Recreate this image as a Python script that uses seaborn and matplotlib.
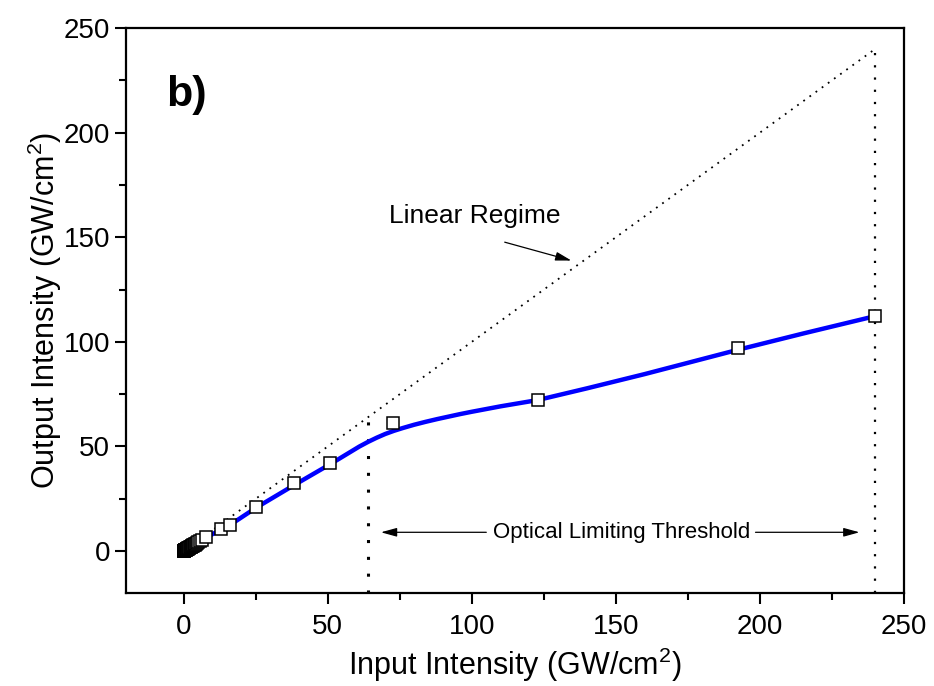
import numpy as np
import pandas as pd
import matplotlib
matplotlib.use("Agg")
import matplotlib.pyplot as plt
import seaborn as sns
from matplotlib.ticker import MultipleLocator

# ---- data ----
marker_x = [0.0, 0.1, 0.2, 0.3, 0.4, 0.5, 0.6, 0.7, 0.85, 1.0, 1.15, 1.3, 1.45, 1.6, 1.8, 2.0, 2.2, 2.4,
            2.6, 2.8, 3.0, 3.2, 3.4, 3.6, 3.8, 4.0, 4.3, 4.6, 5.0, 5.6, 6.3,
            7.8, 13.0, 16.2, 25.1, 38.4, 50.8, 72.8, 122.9, 192.3, 240.0]
marker_y = [0.0, 0.08, 0.16, 0.24, 0.32, 0.4, 0.48, 0.56, 0.68, 0.8, 0.92, 1.04, 1.16, 1.28, 1.44, 1.6, 1.76, 1.92,
            2.08, 2.24, 2.4, 2.56, 2.72, 2.88, 3.04, 3.2, 3.5, 3.8, 4.2, 4.8, 5.5,
            6.8, 10.5, 12.4, 20.9, 32.4, 42.2, 61.0, 72.2, 97.0, 112.3]

curve_x = [1.0, 4.0, 7.8, 13.0, 16.2, 25.1, 38.4, 50.8, 55.0, 58.0, 61.0, 64.0, 67.0, 70.0, 73.0, 76.0,
           80.0, 84.0, 88.0, 92.0, 96.0, 100.0, 110.0, 122.9, 140.0, 160.0, 192.3, 215.0, 240.0]
curve_y = [1.0, 3.4, 6.5, 10.3, 12.6, 20.7, 31.6, 41.5, 45.0, 47.5, 50.0, 52.2, 54.2, 56.0, 57.5, 58.8,
           60.4, 61.8, 63.1, 64.3, 65.5, 66.6, 69.2, 72.2, 77.8, 84.6, 96.2, 104.0, 112.3]

linear_x = [0, 240]
linear_y = [0, 240]
threshold_x = [64, 64]
threshold_y = [-20, 64]
limit_x = [240, 240]
limit_y = [-20, 240]

x_ticks = [0, 50, 100, 150, 200, 250]
y_ticks = [0, 50, 100, 150, 200, 250]

sns.set_theme(style="white")
plt.rcParams['font.family'] = ['Liberation Sans', 'DejaVu Sans']
plt.rcParams['mathtext.fontset'] = 'custom'
plt.rcParams['mathtext.rm'] = 'Liberation Sans'
plt.rcParams['mathtext.it'] = 'Liberation Sans'
plt.rcParams['text.color'] = 'black'
plt.rcParams['axes.labelcolor'] = 'black'

fig = plt.figure(figsize=(9.34, 6.86), dpi=100)
ax = fig.add_axes([0.1349, 0.1356, 0.8330, 0.8236])

df_line = pd.DataFrame({"x": linear_x, "y": linear_y})
sns.lineplot(data=df_line, x="x", y="y", ax=ax, color="black", linestyle=(0, (1, 3.2)), lw=1.3, zorder=1)
ax.plot(threshold_x, threshold_y, color="black", linestyle=(0, (1, 4.5)), lw=2.2, zorder=1)
ax.plot(limit_x, limit_y, color="black", linestyle=(0, (1, 4.5)), lw=1.6, zorder=1)

df_curve = pd.DataFrame({"x": curve_x, "y": curve_y})
sns.lineplot(data=df_curve, x="x", y="y", ax=ax, color="#0000ff", lw=3.2, zorder=2, sort=False)

df_m = pd.DataFrame({"x": marker_x, "y": marker_y})
ax.plot(df_m["x"], df_m["y"], linestyle="none", marker="s", markersize=8,
        markerfacecolor="white", markeredgecolor="black", markeredgewidth=1.1, zorder=3)

ax.set_xlim(-20, 250)
ax.set_ylim(-20, 250)
ax.set_xticks(x_ticks)
ax.set_yticks(y_ticks)
ax.xaxis.set_minor_locator(MultipleLocator(25))
ax.yaxis.set_minor_locator(MultipleLocator(25))
ax.tick_params(axis="both", which="major", direction="out", length=8, width=1.5,
               labelsize=20, color="black", labelcolor="black", bottom=True, left=True, top=False, right=False)
ax.tick_params(axis="x", which="major", pad=7)
ax.tick_params(axis="both", which="minor", direction="out", length=5, width=1.5,
               color="black", bottom=True, left=True, top=False, right=False)
for s in ax.spines.values():
    s.set_linewidth(1.6)
    s.set_color("black")

ax.set_xlabel(r"Input Intensity (GW/cm$^{\mathregular{2}}$)", fontsize=22, labelpad=4)
ax.set_ylabel(r"Output Intensity (GW/cm$^{\mathregular{2}}$)", fontsize=22, labelpad=0)

ax.text(-6, 218, "b)", fontsize=31, fontweight="bold", ha="left", va="center")
ax.text(101, 160, "Linear Regime", fontsize=19, ha="center", va="center")
ax.annotate("", xy=(135.5, 138.5), xytext=(110.5, 148),
            arrowprops=dict(arrowstyle="-|>,head_length=0.8,head_width=0.22", color="black", lw=0.9))
ax.text(152, 9, "Optical Limiting Threshold", fontsize=16, ha="center", va="center")
ax.annotate("", xy=(67.5, 9), xytext=(106, 9),
            arrowprops=dict(arrowstyle="-|>,head_length=0.8,head_width=0.22", color="black", lw=0.9))
ax.annotate("", xy=(235.5, 9), xytext=(197.5, 9),
            arrowprops=dict(arrowstyle="-|>,head_length=0.8,head_width=0.22", color="black", lw=0.9))

fig.savefig("out.png", dpi=100)
